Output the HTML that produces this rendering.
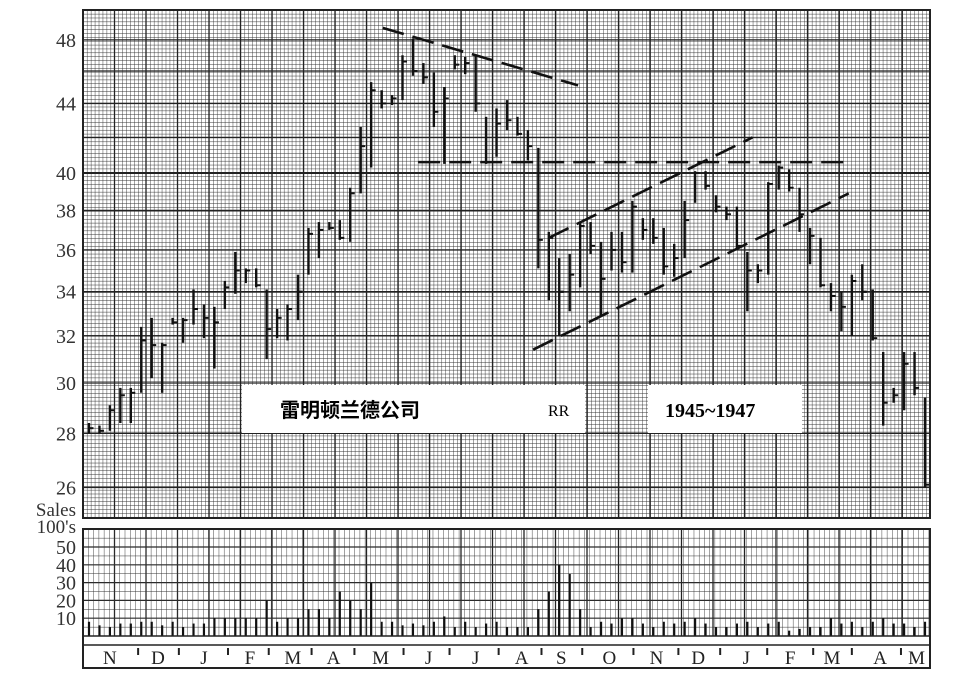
<!DOCTYPE html>
<html><head><meta charset="utf-8"><style>
html,body{margin:0;padding:0;background:#fff;}
svg{display:block;font-family:"Liberation Serif","Noto Serif CJK SC",serif;}
</style></head><body>
<svg id="c" width="960" height="677" viewBox="0 0 960 677" xmlns="http://www.w3.org/2000/svg">
<defs>
<pattern id="fine" x="83" y="10" width="3.94" height="3.87" patternUnits="userSpaceOnUse">
<path d="M0 0V3.87M0 0H3.94" stroke="#333" stroke-width="0.9" fill="none"/>
</pattern>
<pattern id="vfine" x="83" y="529" width="5.22" height="8.9" patternUnits="userSpaceOnUse">
<path d="M0 0V8.9M0 0H5.22" stroke="#333" stroke-width="0.9" fill="none"/>
</pattern>
</defs>
<rect x="83" y="10" width="847" height="508" fill="#fff"/>
<rect x="83" y="10" width="847" height="508" fill="url(#fine)"/>
<g id="grid"></g>
<g id="lines"></g>
<g id="bars"></g>
<rect x="83" y="10" width="847" height="508" fill="none" stroke="#222" stroke-width="2"/>
<rect x="242" y="385" width="343" height="48" fill="#fff"/>
<text x="280" y="417" font-size="20" font-weight="bold" font-family="'Liberation Sans','Noto Sans CJK SC',sans-serif">雷明顿兰德公司</text>
<text x="548" y="416" font-size="16">RR</text>
<rect x="648" y="385" width="154" height="48" fill="#fff"/>
<text x="665" y="417" font-size="20" font-weight="bold">1945~1947</text>
<g id="yaxis" font-size="20" fill="#333" text-anchor="end"></g>
<text x="76" y="516" font-size="19" text-anchor="end" fill="#333">Sales</text>
<text x="76" y="533" font-size="19" text-anchor="end" fill="#333">100's</text>
<rect x="83" y="529" width="847" height="107" fill="url(#vfine)"/>
<g id="vol"></g>
<line x1="83" y1="636" x2="930" y2="636" stroke="#222" stroke-width="1.5"/>
<rect x="83" y="529" width="847" height="139" fill="none" stroke="#222" stroke-width="2"/>
<line x1="83" y1="645" x2="930" y2="645" stroke="#222" stroke-width="1.5"/>
<g id="months" font-size="19" fill="#222" text-anchor="middle"></g>
</svg>
<script>
// price data (weekly), index i = week
const highs=[28.4,28.3,29.1,29.8,29.8,32.4,32.8,31.7,32.8,32.8,34.1,33.4,33.3,34.5,35.9,35.1,35.1,34.1,33.2,33.4,34.8,37.1,37.4,37.4,37.5,39.2,42.6,45.3,44.8,44.5,47.0,48.1,46.5,45.9,45.0,47.0,46.9,47.0,43.2,43.7,44.2,43.2,42.4,41.4,36.9,35.6,35.8,37.4,37.4,36.4,36.9,36.9,38.5,37.6,37.6,37.1,36.3,38.5,40.1,40.1,38.8,38.2,38.2,35.9,35.3,39.5,40.4,40.2,39.2,37.1,36.6,34.4,34.0,34.8,35.3,34.1,31.3,29.8,31.3,31.3,29.4];
const lows=[28.0,28.0,28.1,28.4,28.4,29.6,30.2,29.6,32.5,31.7,32.5,31.9,30.6,33.2,33.9,34.4,34.2,31.0,31.9,31.8,32.7,34.8,35.6,37.0,36.5,36.4,38.9,40.3,43.7,43.9,44.2,45.7,45.2,42.6,40.5,46.1,45.8,43.5,40.5,40.9,42.4,42.1,40.7,35.1,33.6,32.0,33.1,34.2,35.8,32.9,35.0,34.9,34.9,36.5,36.3,34.8,34.7,35.6,38.4,39.1,37.9,37.5,36.0,33.1,34.4,34.8,39.1,39.0,36.9,35.3,34.2,33.1,32.2,32.0,33.6,31.8,28.3,29.2,28.9,29.5,26.0];
const closes=[28.2,28.1,28.9,29.5,29.6,31.8,31.6,31.6,32.6,32.7,33.2,32.8,32.6,34.2,35.0,35.0,34.3,32.3,32.8,33.2,34.0,36.8,37.0,37.1,36.6,38.9,41.5,44.8,44.0,44.3,46.6,46.0,45.6,43.5,44.3,46.4,46.5,44.0,40.6,42.8,43.0,42.2,41.5,36.5,36.6,34.0,34.8,37.2,36.2,34.6,36.0,35.4,38.2,37.0,36.6,35.2,35.6,37.5,40.0,39.3,38.2,37.8,36.2,35.0,35.0,39.4,40.3,39.2,37.8,36.7,34.3,33.8,33.3,34.5,34.0,31.9,29.2,29.5,30.8,29.8,26.1];
const volumes=[8,6,5,7,7,8,8,6,8,5,7,7,10,10,10,10,10,20,8,10,10,15,15,10,25,20,15,30,8,8,6,7,6,8,11,5,8,5,7,8,5,5,5,15,25,40,35,15,5,8,7,10,10,7,5,8,7,8,10,7,5,5,7,8,5,7,8,3,4,5,5,10,7,8,5,8,10,7,7,5,8];
const priceTicks=[48,44,40,38,36,34,32,30,28,26];
const volTicks=[50,40,30,20,10];
const monthLabels=["N","D","J","F","M","A","M","J","J","A","S","O","N","D","J","F","M","A","M"];
const monthWeeks=[2.0,6.6,11.0,15.4,19.5,23.4,27.9,32.5,37.0,41.4,45.2,49.8,54.3,58.3,62.9,67.1,71.1,75.7,79.2];
const tickWeeks=[4.7,8.6,13.3,17.2,21.3,25.4,30.1,34.5,39.2,43.3,47.2,52.1,56.4,60.4,64.9,69.3,73.0,77.7];
// trendlines: [week1, price1, week2, price2]
const trendLines=[[28.1,48.8,46.8,45.1],[31.5,40.6,72.7,40.6],[44.0,36.6,63.5,42.0],[42.5,31.4,72.7,38.9]];

const X=i=>89+10.45*i;
const Y=p=>173-730*Math.log(p/40);
const VY=v=>636-1.78*v;
const NS="http://www.w3.org/2000/svg";
function mk(tag,attrs,parent){const e=document.createElementNS(NS,tag);for(const k in attrs)e.setAttribute(k,attrs[k]);parent.appendChild(e);return e;}
const g=document.getElementById('grid'),gb=document.getElementById('bars'),gl=document.getElementById('lines'),gy=document.getElementById('yaxis'),gv=document.getElementById('vol'),gm=document.getElementById('months');
for(let x=83;x<930;x+=31.5){const l=mk('line',{x1:x,y1:10,x2:x,y2:518,stroke:'#222','stroke-width':1.3},g);

}
for(let x=83;x<930;x+=31.5){const l=mk('line',{x1:x,y1:529,x2:x,y2:636,stroke:'#222','stroke-width':1.3},g);

}
for(let p=26;p<=48;p+=2){const l=mk('line',{x1:83,y1:Y(p),x2:930,y2:Y(p),stroke:'#222','stroke-width':p===40?2:1.3},g);

}
for(const v of volTicks){const l=mk('line',{x1:83,y1:VY(v),x2:930,y2:VY(v),stroke:'#222','stroke-width':1.2},g);

}
for(const p of priceTicks){const t=mk('text',{x:76,y:Y(p)+7},gy);t.textContent=p;

}
for(const v of volTicks){const t=mk('text',{x:76,y:VY(v)+7},gy);t.textContent=v;

}
trendLines.forEach((t,k)=>{const l=mk('line',{x1:X(t[0]),y1:Y(t[1]),x2:X(t[2]),y2:Y(t[3]),stroke:'#111','stroke-width':2.6,'stroke-dasharray':'22,9'},gl);

});
highs.forEach((h,i)=>{const x=X(i);
const b=mk('line',{x1:x,y1:Y(h),x2:x,y2:Y(lows[i]),stroke:'#111','stroke-width':2.4},gb);


const c=mk('line',{x1:x,y1:Y(closes[i]),x2:x+4.5,y2:Y(closes[i]),stroke:'#111','stroke-width':2},gb);

});
volumes.forEach((v,i)=>{const l=mk('line',{x1:X(i),y1:636,x2:X(i),y2:VY(v),stroke:'#111','stroke-width':2.2},gv);

});
monthLabels.forEach((m,k)=>{const t=mk('text',{x:X(monthWeeks[k]),y:664},gm);t.textContent=m;

});
tickWeeks.forEach(w=>{const l=mk('line',{x1:X(w),y1:648,x2:X(w),y2:655,stroke:'#222','stroke-width':2},gm);

});
</script>
</body></html>
